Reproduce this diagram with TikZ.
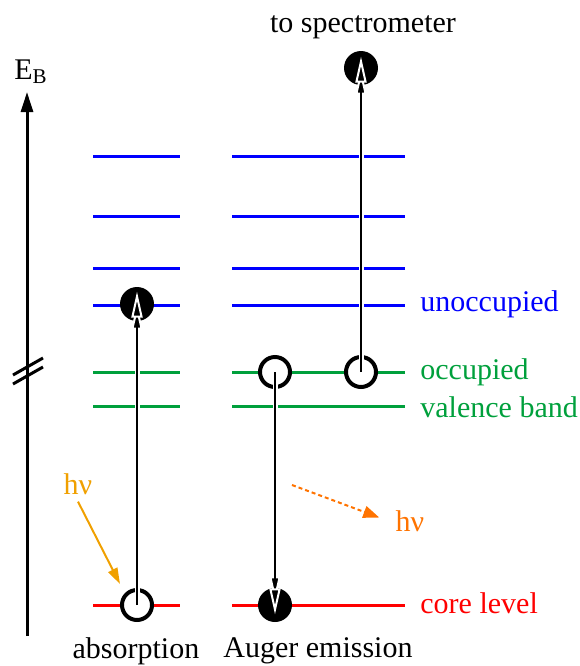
\documentclass[tikz,border=0pt]{standalone}
\usepackage{fontspec}
\setmainfont{Liberation Serif}
\usetikzlibrary{arrows.meta}
\definecolor{occgreen}{RGB}{0,160,60}
\definecolor{photonorange}{RGB}{240,160,0}
\definecolor{emitorange}{RGB}{255,115,0}

\begin{document}
\begin{tikzpicture}[
x=0.5pt, y=-0.5pt,
font=\fontsize{15}{18}\selectfont,
elevel/.style={line width=1.5pt},
hole/.style={draw, circle, line width=2pt, minimum size=15pt, inner sep=0pt, fill=white},
electron/.style={circle, fill=black, minimum size=17pt, inner sep=0pt},
transition/.style={line width=1pt,
  -{Triangle[length=13pt,width=5.5pt,color=white,fill=black,line width=1pt]},
  preaction={draw=white, line width=2.5pt, shorten >=6pt}},
levelname/.style={anchor=west, inner sep=0pt},
>=Latex
]
\useasboundingbox (0,0) rectangle (580,666);

% energy axis with break
\coordinate (axbot) at (27,636);
\coordinate (axtop) at (27,92);
\draw[line width=1.5pt, -{Triangle[length=10pt,width=6pt]}] (axbot) -- (axtop);
\node (eb) at (31,72) {E\textsubscript{B}};
\draw[line width=1.5pt] (13,375) -- (43,358);
\draw[line width=1.5pt] (13,384) -- (43,367);

% unoccupied levels
\draw[elevel,blue] (93,156) -- (180,156);
\draw[elevel,blue] (93,216) -- (180,216);
\draw[elevel,blue] (93,268) -- (180,268);
\draw[elevel,blue] (93,305) -- (180,305);
\draw[elevel,blue] (232,156) -- (405,156);
\draw[elevel,blue] (232,216) -- (405,216);
\draw[elevel,blue] (232,268) -- (405,268);
\draw[elevel,blue] (232,305) -- (405,305);

% valence band
\draw[elevel,occgreen] (93,372) -- (180,372);
\draw[elevel,occgreen] (93,406) -- (180,406);
\draw[elevel,occgreen] (232,372) -- (405,372);
\draw[elevel,occgreen] (232,406) -- (405,406);

% core level
\draw[elevel,red] (93,605) -- (180,605);
\draw[elevel,red] (232,605) -- (405,605);

% level names
\node[levelname,blue] (unocc) at (420,304) {unoccupied};
\node[levelname,occgreen] (occ) at (420,372) {occupied};
\node[levelname,occgreen] (valence) at (420,407) {valence band};
\node[levelname,red] (core) at (420,603) {core level};

% electrons and holes
\node[hole] (abs0) at (137,605) {};
\node[electron] (abs1) at (137,304) {};
\node[hole] (aug0) at (275,372) {};
\node[electron] (aug1) at (275,605) {};
\node[hole] (spec0) at (361,372) {};
\node[electron] (spec1) at (361,68) {};

\node (spectext) at (363,27) {to spectrometer};
\node (abstext) at (136,651) {absorption};
\node (augtext) at (318,651) {Auger emission};

% transitions
\draw[transition] (abs0.center) -- ([yshift=-2.5pt]abs1.north);
\draw[transition] (aug0.center) -- ([yshift=4pt]aug1.south);
\draw[transition] (spec0.center) -- ([yshift=-3pt]spec1.north);

% photons
\node[photonorange] (hvin) at (78,484) {hν};
\coordinate (hvinend) at (120,584);
\draw[photonorange, line width=1pt, -{Triangle[length=8pt,width=5pt]}] (hvin.south) -- (hvinend);

\coordinate (emit) at (292,485);
\node[emitorange] (hvout) at (410,521) {hν};
\draw[emitorange, line width=1pt, dash pattern=on 2pt off 1.5pt, shorten >=5pt,
  -{Triangle[length=8pt,width=6pt]}] (emit) -- (hvout.west);

\end{tikzpicture}
\end{document}
